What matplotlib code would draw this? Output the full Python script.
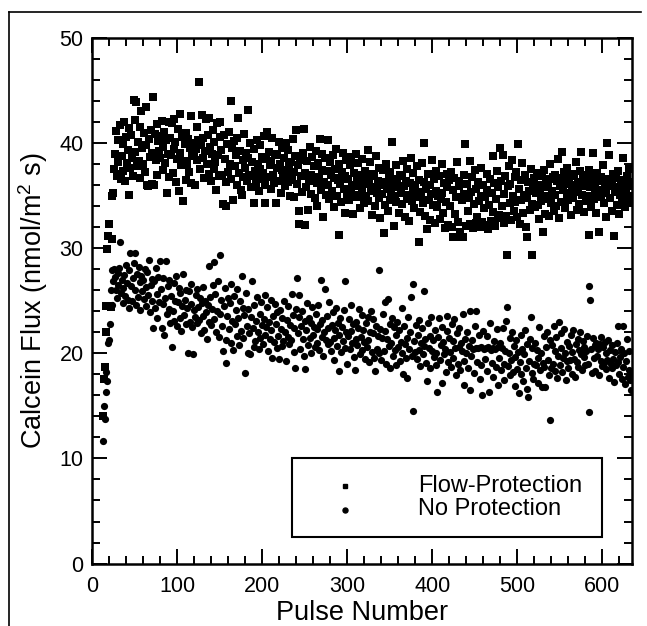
import numpy as np
import matplotlib.pyplot as plt
from matplotlib.lines import Line2D
from matplotlib.patches import Rectangle
from matplotlib.ticker import MultipleLocator

plt.rcParams['font.family'] = ['Liberation Sans', 'DejaVu Sans']
plt.rcParams['mathtext.fontset'] = 'custom'
plt.rcParams['mathtext.rm'] = 'Liberation Sans'

# pulse numbers start at 13, one reading per pulse
first_pulse = 13

# Flow-Protection (squares)
flow_protection = [
    14.0, 17.6, 18.7, 22.0, 24.5, 29.9, 31.2, 32.3,
    24.5, 24.4, 30.9, 35.0, 35.3, 37.6, 39.0, 41.2, 36.9, 38.2, 40.3, 37.1, 41.7, 36.6, 38.8, 39.9, 37.4, 42.0, 36.4, 40.6,
    38.1, 39.4, 35.1, 41.5, 37.7, 40.8, 38.6, 36.9, 44.1, 39.2, 42.2, 43.9, 37.8, 40.1, 38.3, 41.6, 36.7, 43.1, 39.6, 38.0,
    41.0, 37.3, 43.5, 39.8, 36.0, 35.9, 40.4, 38.7, 41.3, 36.1, 39.1, 44.4, 36.0, 40.9, 38.4, 41.8, 37.0, 40.2, 39.3, 38.6,
    40.7, 42.1, 37.5, 39.7, 41.1, 38.1, 40.3, 35.3, 39.0, 42.0, 36.8, 40.5, 38.9, 41.9, 37.2, 39.5, 42.3, 40.1, 36.3, 38.5,
    41.4, 35.5, 39.1, 42.8, 37.9, 40.6, 34.5, 38.3, 39.9, 36.5, 41.0, 38.0, 40.4, 37.3, 39.6, 36.2, 42.6, 38.8, 40.0, 39.2,
    36.0, 39.5, 41.6, 38.4, 40.3, 45.8, 37.6, 39.8, 42.7, 38.6, 40.5, 36.7, 39.3, 42.3, 38.0, 40.8, 42.4, 37.1, 39.7, 36.4,
    39.0, 41.3, 37.6, 40.1, 38.2, 35.6, 41.9, 38.9, 36.9, 40.6, 42.0, 39.4, 37.0, 34.2, 40.8, 38.5, 36.3, 34.0, 39.9, 37.3,
    41.1, 38.0, 44.0, 36.6, 39.6, 34.6, 40.2, 37.8, 38.9, 36.0, 40.5, 42.4, 37.2, 39.3, 35.6, 35.1, 38.4, 36.8, 40.9, 37.7,
    39.1, 36.4, 38.6, 43.2, 37.0, 40.0, 35.8, 38.2, 36.9, 34.3, 39.5, 37.4, 36.1, 40.3, 38.0, 35.5, 37.6, 39.8, 36.6, 38.7,
    37.2, 40.7, 36.0, 34.3, 38.5, 41.1, 36.8, 39.2, 37.9, 35.7, 38.3, 40.5, 37.0, 36.2, 39.0, 34.3, 37.7, 38.9, 36.4, 40.1,
    38.0, 35.3, 37.5, 39.6, 36.7, 38.6, 35.9, 40.0, 37.1, 36.3, 39.4, 37.8, 35.0, 38.2, 36.5, 40.4, 37.3, 34.9, 38.8, 41.3,
    36.1, 37.9, 33.6, 32.3, 38.4, 36.9, 35.4, 39.1, 41.4, 37.2, 32.2, 35.8, 38.3, 33.7, 36.6, 39.7, 37.0, 35.2, 38.7, 36.4,
    37.8, 34.8, 39.3, 36.2, 34.0, 38.1, 36.8, 40.4, 35.6, 37.5, 39.0, 33.0, 36.3, 38.6, 35.1, 37.4, 40.3, 36.0, 34.7, 38.2,
    37.0, 35.5, 38.9, 36.7, 33.9, 37.6, 39.5, 35.0, 36.5, 31.3, 38.0, 36.1, 34.4, 37.3, 39.1, 35.7, 36.9, 33.4, 38.4, 35.2,
    36.6, 34.6, 37.9, 35.4, 38.7, 36.0, 33.3, 37.2, 35.9, 39.0, 34.9, 36.4, 38.1, 35.1, 33.8, 37.0, 35.6, 38.5, 36.2, 34.3,
    37.4, 35.0, 36.8, 39.4, 34.5, 36.1, 38.2, 35.5, 33.2, 37.1, 35.8, 36.9, 34.0, 38.8, 35.3, 36.4, 37.7, 34.8, 32.9, 36.0,
    35.2, 37.5, 31.5, 36.3, 34.1, 38.0, 35.7, 33.6, 36.8, 34.6, 37.3, 35.4, 40.1, 36.1, 32.1, 35.0, 37.9, 34.4, 36.6, 35.8,
    33.4, 37.0, 35.3, 36.9, 34.2, 38.3, 35.9, 33.0, 36.4, 34.7, 37.6, 35.1, 32.6, 36.2, 38.6, 34.5, 35.6, 37.2, 33.8, 36.0,
    34.9, 37.8, 35.4, 30.6, 36.5, 33.5, 35.0, 38.1, 34.3, 40.0, 36.3, 33.1, 35.7, 31.8, 37.1, 34.6, 36.0, 32.7, 35.2, 38.4,
    34.1, 36.6, 32.4, 35.5, 37.4, 33.9, 35.0, 36.9, 32.8, 34.7, 38.0, 35.3, 33.4, 36.2, 31.9, 34.4, 37.1, 35.8, 32.2, 36.5,
    34.0, 37.3, 32.0, 31.1, 35.6, 36.7, 33.3, 34.9, 38.2, 32.5, 35.9, 36.4, 31.6, 31.1, 34.6, 31.1, 37.0, 35.2, 39.9, 32.1,
    36.1, 33.6, 34.8, 38.3, 32.3, 35.4, 36.8, 31.9, 34.2, 37.5, 32.4, 35.7, 33.0, 36.3, 34.5, 32.0, 37.7, 35.0, 32.5, 36.0,
    33.8, 34.9, 32.2, 37.1, 35.6, 31.8, 34.1, 36.6, 32.6, 35.3, 38.8, 33.5, 36.2, 32.1, 34.7, 37.4, 32.9, 35.8, 33.2, 39.6,
    36.4, 34.0, 38.9, 32.4, 35.2, 36.9, 33.1, 29.4, 35.9, 37.8, 34.3, 36.1, 32.7, 38.4, 35.0, 33.6, 36.8, 34.4, 37.3, 33.0,
    39.9, 35.7, 32.3, 36.5, 34.6, 38.1, 33.4, 35.1, 37.0, 32.0, 34.8, 31.1, 36.3, 35.5, 33.7, 37.6, 34.2, 29.4, 35.9, 36.7,
    33.9, 35.3, 37.2, 34.1, 36.0, 32.8, 35.6, 34.5, 36.9, 31.6, 35.0, 37.5, 33.3, 36.2, 34.7, 35.8, 33.1, 36.6, 38.0, 34.3,
    35.5, 36.8, 33.6, 37.0, 35.1, 34.0, 36.4, 38.5, 32.9, 35.9, 36.7, 34.4, 39.2, 35.6, 37.3, 33.8, 36.1, 35.0, 37.7, 34.6,
    36.5, 35.3, 33.2, 37.1, 36.0, 34.8, 36.9, 35.4, 38.2, 33.7, 36.3, 35.7, 34.2, 37.4, 39.2, 35.1, 36.6, 33.5, 35.9, 37.0,
    34.5, 36.2, 35.0, 31.3, 37.5, 35.8, 33.9, 36.7, 39.1, 34.7, 36.1, 35.2, 33.4, 37.2, 35.6, 31.6, 36.4, 34.9, 36.8, 35.3,
    37.9, 34.3, 36.0, 35.5, 33.0, 40.0, 36.6, 38.9, 34.8, 35.9, 36.3, 33.6, 37.1, 31.2, 35.4, 36.7, 34.1, 35.8, 37.4, 33.3,
    35.1, 36.5, 34.6, 38.6, 35.7, 36.2, 33.9, 35.4, 36.9, 34.3, 35.0, 37.6, 34.7, 35.9, 36.3,
]

# No Protection (circles)
no_protection = [
    11.7, 15.0, 13.8, 16.3, 18.2, 17.4, 21.0, 21.3, 22.8, 26.0, 27.9, 24.6,
    26.9, 28.0, 27.3, 26.0, 25.3, 27.7, 26.5, 28.1, 30.6, 25.8, 27.0, 26.2, 24.8, 27.5, 25.5, 28.4,
    26.7, 25.1, 27.9, 24.3, 29.6, 26.4, 25.0, 27.2, 28.6, 29.6, 26.0, 24.6, 27.6, 25.4, 28.2, 26.8, 24.1, 27.4, 25.9, 27.0,
    25.2, 28.0, 26.3, 24.5, 27.8, 25.6, 28.9, 23.9, 26.5, 27.1, 25.0, 22.4, 26.9, 24.3, 28.1, 25.7, 23.4, 27.3, 24.9, 28.8,
    26.1, 22.4, 24.7, 27.2, 21.8, 25.3, 28.8, 23.8, 26.4, 24.2, 27.0, 22.9, 25.5, 20.6, 24.0, 26.7, 23.1, 25.0, 27.4, 22.6,
    24.9, 26.2, 23.4, 25.8, 22.1, 24.5, 27.6, 23.7, 25.1, 26.0, 22.8, 24.3, 20.0, 25.9, 23.0, 24.7, 26.6, 22.5, 19.9, 24.1,
    23.5, 25.6, 22.9, 26.1, 24.4, 23.2, 25.3, 21.9, 24.8, 26.3, 23.6, 22.2, 25.0, 23.9, 21.4, 24.6, 28.3, 23.0, 25.4, 22.7,
    24.2, 26.5, 28.7, 23.3, 25.7, 22.0, 24.0, 26.9, 21.6, 23.8, 29.4, 25.1, 22.6, 20.2, 24.5, 26.2, 21.3, 19.1, 23.6, 25.3,
    22.3, 24.8, 21.0, 26.6, 23.1, 20.3, 25.5, 22.8, 24.1, 21.7, 26.1, 23.4, 20.8, 25.0, 22.1, 27.4, 24.3, 21.5, 23.7, 18.1,
    25.8, 22.6, 20.0, 24.2, 21.9, 19.9, 23.5, 26.9, 22.4, 20.6, 24.6, 21.2, 23.1, 25.4, 22.0, 20.4, 23.8, 21.5, 24.9, 22.7,
    20.9, 23.3, 25.6, 21.8, 22.5, 24.4, 20.2, 23.0, 21.4, 25.1, 22.2, 19.6, 23.6, 21.1, 24.7, 22.8, 20.5, 23.9, 21.7, 19.5,
    24.1, 22.3, 20.7, 23.4, 21.2, 25.0, 22.0, 19.3, 23.2, 21.6, 24.5, 20.9, 22.7, 21.3, 25.7, 23.7, 20.1, 22.4, 18.6, 24.2,
    27.2, 21.9, 23.5, 25.6, 20.4, 22.6, 24.0, 21.4, 19.8, 23.1, 18.5, 22.2, 24.8, 20.8, 23.4, 21.5, 22.9, 20.0, 24.4, 21.8,
    22.5, 20.6, 23.8, 21.0, 22.3, 24.6, 20.3, 22.8, 27.0, 21.6, 23.2, 19.8, 22.0, 26.1, 21.3, 23.6, 20.9, 22.4, 24.9, 21.1,
    20.2, 22.7, 23.9, 21.5, 19.4, 22.2, 24.3, 20.7, 22.9, 18.3, 21.8, 23.4, 20.1, 22.5, 21.2, 24.1, 26.9, 20.5, 22.0, 19.0,
    21.7, 23.3, 20.4, 22.1, 24.6, 21.0, 22.8, 19.7, 18.4, 21.4, 23.0, 20.8, 22.4, 24.2, 19.9, 21.6, 23.7, 20.3, 22.2, 21.1,
    19.5, 22.9, 20.6, 23.5, 21.3, 19.2, 22.0, 24.0, 20.1, 21.9, 23.3, 19.6, 18.3, 22.6, 20.4, 21.7, 27.9, 20.0, 22.3, 19.4,
    21.5, 23.8, 20.2, 24.9, 22.1, 19.0, 21.4, 25.2, 20.7, 22.8, 18.6, 21.0, 23.4, 19.8, 22.5, 20.3, 18.9, 21.8, 23.0, 20.6,
    22.2, 19.3, 21.1, 24.3, 20.0, 18.0, 22.6, 20.9, 19.6, 17.7, 21.5, 23.5, 20.4, 22.0, 25.4, 19.8, 14.5, 26.6, 21.2, 20.1,
    22.7, 19.5, 21.8, 20.3, 23.2, 18.8, 21.0, 22.4, 19.9, 20.7, 25.9, 21.4, 19.1, 17.4, 22.9, 20.5, 21.7, 18.6, 23.5, 20.2,
    21.3, 19.7, 22.2, 20.0, 18.9, 16.3, 21.6, 23.4, 19.4, 20.8, 22.5, 17.2, 21.1, 19.9, 20.4, 18.2, 22.1, 23.6, 19.2, 21.5,
    20.1, 18.7, 22.8, 19.6, 21.2, 23.3, 20.5, 17.9, 21.9, 19.0, 20.6, 22.4, 18.4, 21.0, 20.2, 23.8, 19.3, 17.0, 21.4, 20.0,
    22.0, 18.6, 20.7, 24.0, 16.5, 19.8, 21.3, 20.4, 18.1, 22.6, 24.0, 20.5, 19.2, 20.5, 21.8, 17.6, 20.6, 18.9, 16.0, 22.1,
    20.4, 19.5, 20.5, 21.7, 18.3, 20.6, 16.3, 22.9, 20.3, 19.1, 20.5, 17.8, 21.2, 20.4, 18.7, 22.3, 20.6, 17.0, 19.6, 21.0,
    18.4, 20.5, 22.4, 19.0, 17.5, 20.2, 23.1, 24.4, 18.8, 20.0, 21.5, 17.9, 19.4, 22.0, 18.2, 20.7, 16.9, 19.7, 21.3, 18.5,
    20.1, 16.2, 19.2, 21.8, 18.0, 20.4, 17.4, 19.9, 22.2, 18.6, 16.6, 20.9, 15.9, 19.3, 21.4, 23.5, 18.1, 20.5, 17.6, 19.0,
    21.0, 18.9, 20.3, 17.2, 19.6, 22.5, 18.4, 20.0, 16.8, 19.1, 21.7, 18.7, 16.8, 20.6, 22.0, 19.4, 17.9, 21.3, 13.7, 18.6,
    20.8, 19.0, 22.6, 18.3, 20.2, 21.6, 17.7, 19.8, 23.0, 18.9, 20.5, 21.9, 18.2, 19.6, 22.3, 20.0, 17.5, 21.1, 19.3, 18.6,
    20.7, 19.4, 21.8, 18.0, 20.1, 22.2, 19.5, 17.8, 20.9, 19.2, 21.4, 18.7, 20.3, 22.0, 19.9, 18.4, 21.2, 19.7, 20.6, 18.9,
    20.2, 21.7, 19.0, 14.4, 26.4, 25.1, 20.4, 18.1, 21.5, 19.6, 20.8, 18.3, 21.0, 19.8, 20.4, 17.9, 20.9, 19.3, 21.6, 18.8,
    20.6, 19.1, 21.1, 18.5, 20.0, 19.4, 21.3, 17.7, 20.3, 19.0, 18.6, 20.8, 19.5, 17.3, 20.1, 18.9, 21.0, 19.2, 22.6, 18.0,
    19.7, 20.4, 17.6, 22.6, 18.7, 20.0, 17.1, 19.3, 21.4, 17.8, 18.4, 20.2, 17.5, 16.5, 18.1,
]

series_names = ['Flow-Protection', 'No Protection']

pulse_flow = np.arange(first_pulse, first_pulse + len(flow_protection))
pulse_none = np.arange(first_pulse, first_pulse + len(no_protection))

fig = plt.figure(figsize=(6.47, 6.26), dpi=100)
ax = fig.add_axes([0.1422, 0.0998, 0.8346, 0.839])

ax.scatter(pulse_flow, flow_protection, marker='s', s=34, c='black', linewidths=0)
ax.scatter(pulse_none, no_protection, marker='o', s=27, c='black', linewidths=0)

ax.set_xlim(0, 635)
ax.set_ylim(0, 50)
ax.xaxis.set_major_locator(MultipleLocator(100))
ax.xaxis.set_minor_locator(MultipleLocator(20))
ax.yaxis.set_major_locator(MultipleLocator(10))
ax.yaxis.set_minor_locator(MultipleLocator(2))
ax.tick_params(which='both', direction='in', top=True, right=True, width=1.4)
ax.tick_params(which='major', length=11, labelsize=15.5)
ax.tick_params(axis='x', which='major', pad=9)
ax.tick_params(axis='y', which='major', pad=6)
ax.tick_params(which='minor', length=5.5)
for sp in ax.spines.values():
    sp.set_linewidth(1.8)

ax.set_xlabel('Pulse Number', fontsize=19.5, labelpad=2)
ax.set_ylabel('Calcein Flux (nmol/m$^2$ s)', fontsize=19.5, labelpad=7)

# legend box drawn by hand (tight line spacing like the original)
ax.add_patch(Rectangle((0.370, 0.050), 0.574, 0.151, transform=ax.transAxes,
                       fill=False, edgecolor='black', lw=1.5, zorder=5))
ax.plot([0.468], [0.148], transform=ax.transAxes, marker='s', ms=3.2, color='black',
        clip_on=False, zorder=6)
ax.plot([0.468], [0.102], transform=ax.transAxes, marker='o', ms=3.6, color='black',
        clip_on=False, zorder=6)
ax.text(0.604, 0.136, series_names[0], transform=ax.transAxes, fontsize=17,
        ha='left', va='baseline', zorder=6)
ax.text(0.604, 0.092, series_names[1], transform=ax.transAxes, fontsize=17,
        ha='left', va='baseline', zorder=6)

# scanned page border (left and top edges)
fig.add_artist(Line2D([0.0139, 0.0139], [0.0, 0.981], color='black', lw=1.2))
fig.add_artist(Line2D([0.0139, 0.99], [0.981, 0.981], color='black', lw=1.2))

fig.savefig('out.png', dpi=100)
